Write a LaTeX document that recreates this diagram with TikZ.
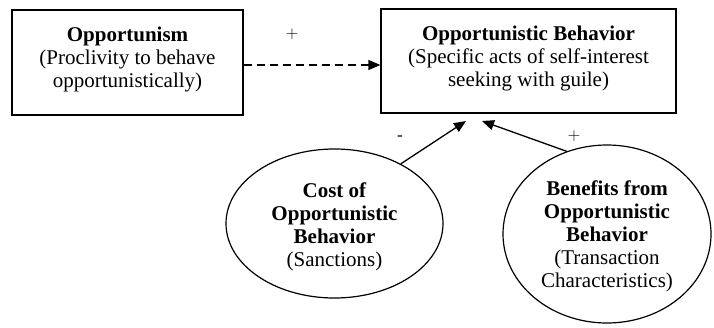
\documentclass[tikz,border=0pt]{standalone}
\usepackage{fontspec}
\setmainfont{Liberation Serif}
\usetikzlibrary{shapes,arrows.meta}

\tikzset{
    box/.style={draw, line width=1.3pt, rectangle, inner sep=0pt},
    blob/.style={draw, line width=1.2pt, ellipse, inner sep=0pt},
    txt/.style={align=center, inner sep=0pt},
    link/.style={line width=1.3pt, -{Triangle[length=12pt,width=10pt]}},
    sign/.style={inner sep=0pt, font=\fontsize{17}{20}\selectfont}
}

\begin{document}
\begin{tikzpicture}[x=1pt,y=-1pt,font=\fontsize{21}{23}\selectfont]
    \useasboundingbox (0,0) rectangle (714,327);

    % Draw the two boxes
    \node [box, minimum width=231pt, minimum height=105pt] (opp) at (127.5,62.5) {};
    \node [txt] (opptxt) at ([yshift=3pt]opp.center)
        {\textbf{Opportunism}\\(Proclivity to behave\\opportunistically)};
    \node [box, minimum width=295pt, minimum height=104pt] (beh) at (528.5,61) {};
    \node [txt] (behtxt) at ([yshift=2.5pt]beh.center)
        {\textbf{Opportunistic Behavior}\\(Specific acts of self-interest\\seeking with guile)};

    % Draw the two ellipses
    \node [blob, minimum width=217pt, minimum height=149pt] (cost) at (334.5,223.5) {};
    \node [txt] (costtxt) at ([yshift=-3pt]cost.center)
        {\textbf{Cost of}\\\textbf{Opportunistic}\\\textbf{Behavior}\\(Sanctions)};
    \node [blob, minimum width=208pt, minimum height=178pt] (ben) at (607,234) {};
    \node [txt] (bentxt) at ([yshift=-2pt]ben.center)
        {\textbf{Benefits from}\\\textbf{Opportunistic}\\\textbf{Behavior}\\(Transaction\\Characteristics)};

    % Arrow ends below the box
    \coordinate (tipa) at (466,121);
    \coordinate (tipb) at (482,121);
    \coordinate (tail) at ([yshift=-2.5pt]opp.east);

    % Draw the arrows
    \draw [link, dash pattern=on 8pt off 5pt] (tail) -- (tail -| beh.west);
    \draw [link] (cost.42) -- (tipa);
    \draw [link] (ben.116) -- (tipb);

    % Signs
    \node [sign] (plusa) at (292,34) {$+$};
    \node [sign] (minus) at (400,138) {-};
    \node [sign] (plusb) at (574,136) {$+$};
\end{tikzpicture}
\end{document}
